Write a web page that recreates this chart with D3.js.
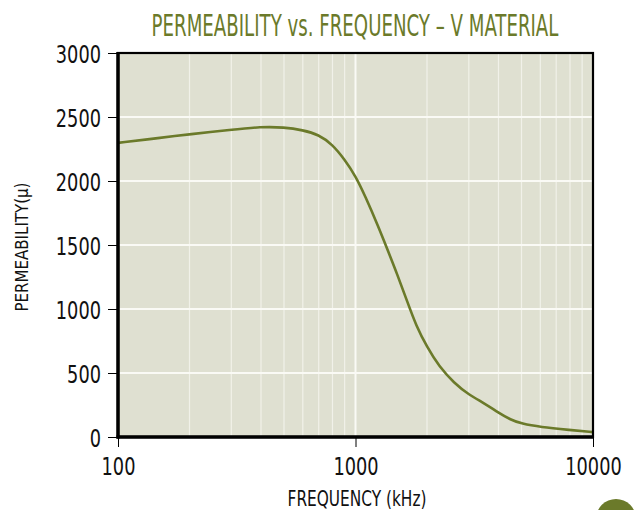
<!DOCTYPE html>
<html><head><meta charset="utf-8">
<script src="https://cdn.jsdelivr.net/npm/d3@7"></script>
<style>
html,body{margin:0;padding:0;background:#fff;}
text{font-family:"DejaVu Sans Condensed","Liberation Sans Narrow","Roboto",sans-serif;}
</style></head>
<body>
<svg id="c" width="635" height="510"></svg>
<script>
const title = "PERMEABILITY vs. FREQUENCY – V MATERIAL";
const xTitle = "FREQUENCY (kHz)";
const yTitle = "PERMEABILITY(μ)";
const frequency = [100,150,200,300,400,500,600,700,800,900,1000,1100,1250,1350,1500,1650,1800,2000,2250,2600,3000,3500,4000,4500,5000,6000,8000,10000];
const permeability = [2298,2337,2365,2400,2424,2420,2398,2362,2285,2168,2040,1880,1640,1484,1270,1060,870,703,550,422,330,262,190,135,104,78,55,38];
const xTickLabels = [100,1000,10000];
const yTickLabels = [0,500,1000,1500,2000,2500,3000];

const olive = "#6b7a2a";
const svg = d3.select("#c");
const L=118, R=593, T=53, B=437;
const x = d3.scaleLog().domain([100,10000]).range([L,R]);
const y = d3.scaleLinear().domain([0,3000]).range([B,T]);

// squeeze a text horizontally to a target width (condensed look)
function fit(sel, w, ax, ay){
  sel.each(function(){
    const n = this.getComputedTextLength();
    const s = w / n;
    d3.select(this).attr("transform", `translate(${ax},${ay}) scale(${s},1)`).attr("x",0).attr("y",0);
  });
}

svg.append("rect").attr("x",L).attr("y",T).attr("width",R-L).attr("height",B-T).attr("fill","#dfe0d1");

// minor vertical grid
const minor = [];
[100,1000].forEach(d=>{for(let k=2;k<=9;k++) minor.push(d*k);});
svg.append("g").selectAll("line").data(minor).join("line")
  .attr("x1",d=>x(d)).attr("x2",d=>x(d)).attr("y1",T).attr("y2",B)
  .attr("stroke","#f1f1e9").attr("stroke-width",1.2);
svg.append("line").attr("x1",x(1000)).attr("x2",x(1000)).attr("y1",T).attr("y2",B)
  .attr("stroke","#fafaf5").attr("stroke-width",2);
svg.append("g").selectAll("line").data(yTickLabels.slice(1,-1)).join("line")
  .attr("x1",L).attr("x2",R).attr("y1",d=>y(d)).attr("y2",d=>y(d))
  .attr("stroke","#fafaf5").attr("stroke-width",2);

// curve
const line = d3.line().x((d,i)=>x(frequency[i])).y(d=>y(d)).curve(d3.curveBasis);
svg.append("path").datum(permeability).attr("d",line).attr("fill","none")
  .attr("stroke",olive).attr("stroke-width",2.6);

// frame
svg.append("rect").attr("x",L).attr("y",T).attr("width",R-L).attr("height",B-T)
  .attr("fill","none").attr("stroke","#000").attr("stroke-width",2.2);
svg.append("line").attr("x1",L).attr("x2",L).attr("y1",T-1).attr("y2",B+1.5).attr("stroke","#000").attr("stroke-width",3.5);
svg.append("line").attr("x1",L-1.5).attr("x2",R+1).attr("y1",B).attr("y2",B).attr("stroke","#000").attr("stroke-width",3.5);

// y axis
const yAxis = d3.axisLeft(y).tickValues(yTickLabels).tickSize(10).tickPadding(6).tickFormat(d3.format("d"));
const gy = svg.append("g").attr("transform",`translate(${L},0)`).call(yAxis);
gy.select(".domain").remove();
gy.selectAll(".tick line").attr("stroke","#000").attr("stroke-width",1);
gy.selectAll(".tick text").attr("font-size",25).attr("fill","#111").attr("dy","0.36em")
  .attr("font-family",'"DejaVu Sans Condensed",sans-serif')
  .each(function(d){ fit(d3.select(this), String(d).length*11.3, -17, 0); });

const xAxis = d3.axisBottom(x).tickValues(xTickLabels).tickSize(10).tickPadding(4).tickFormat(d3.format("d"));
const gx = svg.append("g").attr("transform",`translate(0,${B})`).call(xAxis);
gx.select(".domain").remove();
gx.selectAll(".tick line").attr("stroke","#000").attr("stroke-width",1);
gx.selectAll(".tick text").attr("font-size",25).attr("fill","#111").attr("dy",null)
  .attr("font-family",'"DejaVu Sans Condensed",sans-serif')
  .each(function(d){ fit(d3.select(this), String(d).length*11.3, 0, 38); });

// titles
const t1 = svg.append("text").attr("text-anchor","middle").attr("font-size",31).attr("fill",olive).text(title);
fit(t1, 407, 355, 36);
const t2 = svg.append("text").attr("text-anchor","middle").attr("font-size",21).attr("fill","#111").text(xTitle);
fit(t2, 139, 357, 506);
const t3 = svg.append("text").attr("text-anchor","middle").attr("font-size",17).attr("fill","#111").text(yTitle);
t3.each(function(){
  const s = 129 / this.getComputedTextLength();
  d3.select(this).attr("transform",`translate(28,247) rotate(-90) scale(${s},1)`);
});

svg.append("circle").attr("cx",616).attr("cy",519).attr("r",20).attr("fill",olive);
</script>
</body></html>
